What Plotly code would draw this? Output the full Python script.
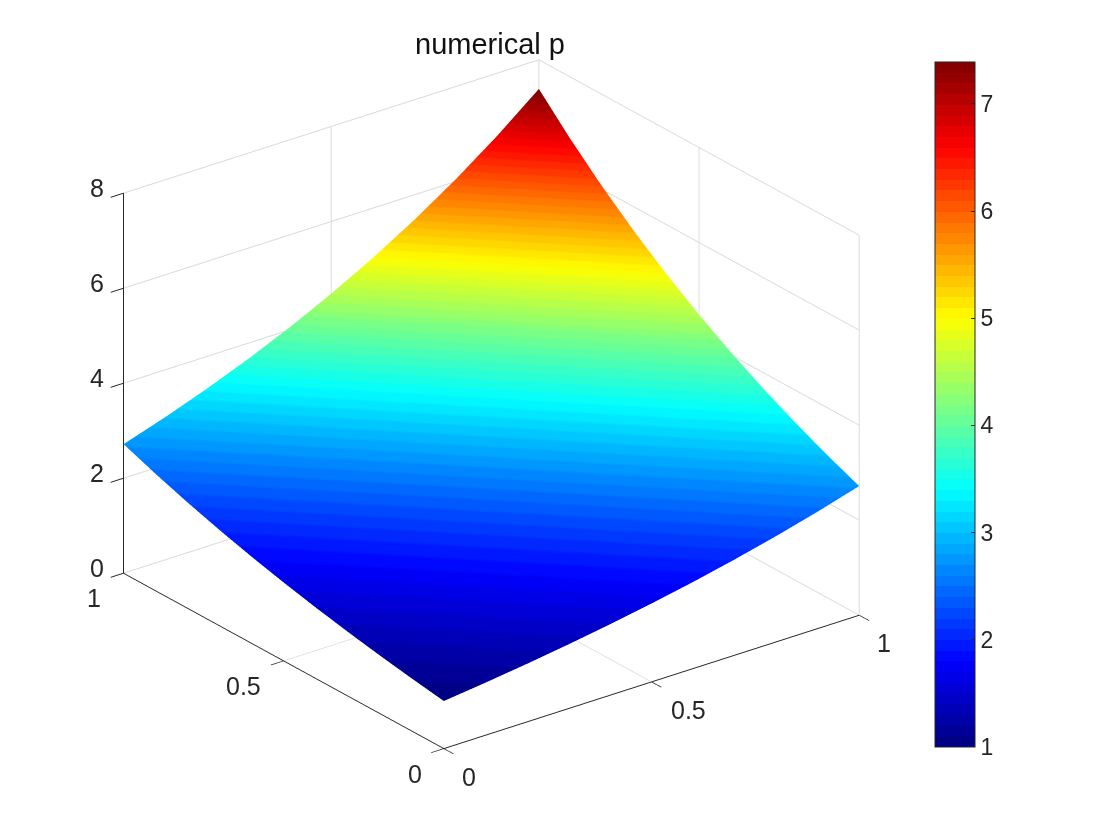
import plotly.graph_objects as go

x_vals = [0.0, 0.1, 0.2, 0.3, 0.4, 0.5, 0.6, 0.7, 0.8, 0.9, 1.0]
y_vals = [0.0, 0.1, 0.2, 0.3, 0.4, 0.5, 0.6, 0.7, 0.8, 0.9, 1.0]
p_vals = [
    [1.000, 1.105, 1.221, 1.350, 1.492, 1.649, 1.822, 2.014, 2.226, 2.460, 2.718],
    [1.105, 1.221, 1.350, 1.492, 1.649, 1.822, 2.014, 2.226, 2.460, 2.718, 3.004],
    [1.221, 1.350, 1.492, 1.649, 1.822, 2.014, 2.226, 2.460, 2.718, 3.004, 3.320],
    [1.350, 1.492, 1.649, 1.822, 2.014, 2.226, 2.460, 2.718, 3.004, 3.320, 3.669],
    [1.492, 1.649, 1.822, 2.014, 2.226, 2.460, 2.718, 3.004, 3.320, 3.669, 4.055],
    [1.649, 1.822, 2.014, 2.226, 2.460, 2.718, 3.004, 3.320, 3.669, 4.055, 4.482],
    [1.822, 2.014, 2.226, 2.460, 2.718, 3.004, 3.320, 3.669, 4.055, 4.482, 4.953],
    [2.014, 2.226, 2.460, 2.718, 3.004, 3.320, 3.669, 4.055, 4.482, 4.953, 5.474],
    [2.226, 2.460, 2.718, 3.004, 3.320, 3.669, 4.055, 4.482, 4.953, 5.474, 6.050],
    [2.460, 2.718, 3.004, 3.320, 3.669, 4.055, 4.482, 4.953, 5.474, 6.050, 6.686],
    [2.718, 3.004, 3.320, 3.669, 4.055, 4.482, 4.953, 5.474, 6.050, 6.686, 7.389],
]
xy_ticks = [0, 0.5, 1]
xy_labels = ["0", "0.5", "1"]
z_ticks = [0, 2, 4, 6, 8]
z_labels = ["0", "2", "4", "6", "8"]
cbar_ticks = [1, 2, 3, 4, 5, 6, 7]
title_text = "numerical p"


def jet(n=64):
    out = []
    for i in range(n):
        t = (i + 0.5) / n
        r = min(max(min(4 * t - 1.5, -4 * t + 4.5), 0), 1)
        g = min(max(min(4 * t - 0.5, -4 * t + 3.5), 0), 1)
        b = min(max(min(4 * t + 0.5, -4 * t + 2.5), 0), 1)
        out.append(f"rgb({round(r*255)},{round(g*255)},{round(b*255)})")
    return out


cols = jet()
scale = []
for i, c in enumerate(cols):
    scale.append([i / 64, c])
    scale.append([(i + 1) / 64, c])

GRID = "#d8d8d8"
DARK = "#262626"
axis = dict(
    showbackground=False, showgrid=True, gridcolor=GRID, gridwidth=2,
    zeroline=False, showline=True, linecolor=DARK, linewidth=2,
    ticks="outside", ticklen=16, tickcolor=DARK, tickwidth=2,
    title=dict(text=""), showspikes=False, showticklabels=False,
)
font = dict(family="Liberation Sans", size=25, color=DARK)


def label(x, y, z, text, dx, dy):
    return dict(x=x, y=y, z=z, text=text, showarrow=False, xshift=dx, yshift=dy,
                xanchor="center", yanchor="middle", font=font)


notes = []
for v, t in zip(xy_ticks, xy_labels):
    notes.append(label(v, 0, 0, t, 37 if t == "0.5" else 25, -28))
    notes.append(label(0, v, 0, t, -40 if t == "0.5" else -29, -25))
for v, t in zip(z_ticks, z_labels):
    notes.append(label(0, 1, v, t, -26, 5))

fig = go.Figure(go.Surface(
    x=x_vals, y=y_vals, z=p_vals, colorscale=scale, cmin=1, cmax=7.39,
    lighting=dict(ambient=1, diffuse=0, specular=0, roughness=1, fresnel=0),
    hoverinfo="skip",
    colorbar=dict(
        lenmode="pixels", len=685, thicknessmode="pixels", thickness=40,
        x=927 / 1120, xanchor="left", y=1 - 54 / 840, yanchor="top",
        tickvals=cbar_ticks, ticks="inside", ticklen=4, tickcolor=DARK, tickwidth=1,
        outlinecolor=DARK, outlinewidth=1, xpad=0, ypad=0, tickprefix="\u200b\u2005",
        tickfont=dict(family="Liberation Sans", size=23, color=DARK),
    ),
))
fig.update_layout(
    width=1120, height=840, paper_bgcolor="white",
    margin=dict(l=0, r=0, t=0, b=0), showlegend=False,
    title=dict(text=title_text, x=482 / 1120, xanchor="center", y=1 - 36 / 840, yanchor="middle",
               font=dict(family="Liberation Sans", size=29, color="#111111"), xref="paper"),
    scene=dict(
        domain=dict(x=[0, 1], y=[0, 1]),
        aspectmode="manual", aspectratio=dict(x=1.2458, y=1.2545, z=0.9966),
        xaxis=dict(axis, range=[0, 1], tickvals=xy_ticks),
        yaxis=dict(axis, range=[0, 1], tickvals=xy_ticks),
        zaxis=dict(axis, range=[0, 8], tickvals=z_ticks),
        annotations=notes,
        camera=dict(
            projection=dict(type="orthographic"),
            eye=dict(x=-0.7556, y=-1.2867, z=0.6215),
            up=dict(x=0, y=0, z=1),
            center=dict(x=0.1305, y=-0.1297, z=-0.0515),
        ),
    ),
)
fig.write_html("out.html")
